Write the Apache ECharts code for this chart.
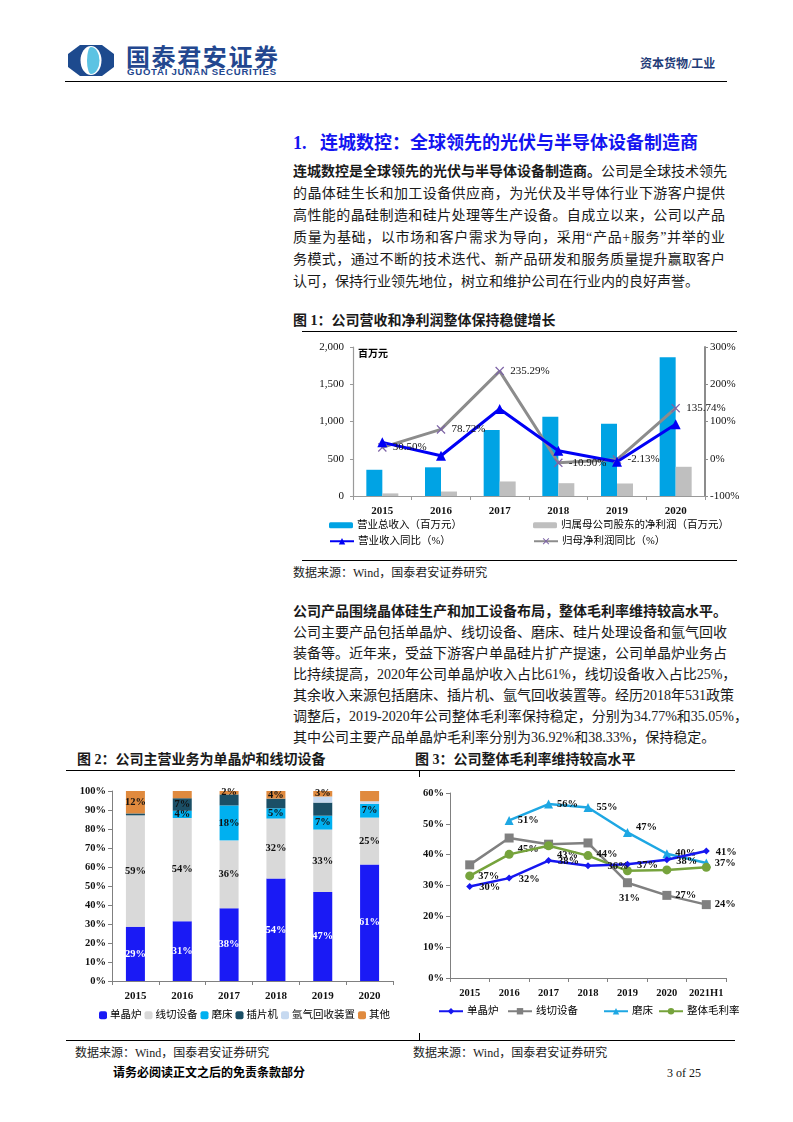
<!DOCTYPE html>
<html><head><meta charset="utf-8">
<script src="https://cdn.jsdelivr.net/npm/echarts@6/dist/echarts.min.js"></script>
<style>
body{margin:0;width:793px;height:1122px;position:relative;background:#fff;overflow:hidden;
 font-family:"Liberation Serif","Noto Sans CJK SC",serif;color:#1a1a1a}
.abs{position:absolute;white-space:nowrap}
.hl{position:absolute;height:0;border-top:1.4px solid #000}
.vl{position:absolute;width:0;border-left:1.4px solid #000}
.ln{position:absolute;left:293px;width:432px;height:20px;line-height:20px;font-size:14px;white-space:nowrap;text-align:justify;text-align-last:justify}
.ln.last{text-align:left;text-align-last:left}
.ft{font-size:14px;font-weight:bold;line-height:20px;height:20px}
.src{font-size:12px;line-height:16px;color:#222}
.chart{position:absolute}
</style>
</head><body>
<!-- header -->
<svg class="abs" style="left:68px;top:45px" width="46" height="31" viewBox="0 0 46 31">
 <polygon points="12,0 34,0 46,9 46,22 34,31 12,31 0,22 0,9" fill="#1d4a8e"/>
 <ellipse cx="23" cy="15.5" rx="10.5" ry="14.5" fill="#fff"/>
 <path d="M23,2 A8.5,13.5 0 0 1 23,29 A4,13.5 0 0 1 23,2 Z" fill="#5cc3e3"/>
</svg>
<div class="abs" style="left:126px;top:41px;font-family:'Noto Sans CJK SC';font-weight:bold;font-size:24px;line-height:30px;letter-spacing:1.6px;color:#23478f">国泰君安证券</div>
<div class="abs" style="left:127px;top:66px;font-family:'Liberation Sans';font-weight:bold;font-size:9.6px;line-height:12px;letter-spacing:0.75px;color:#23478f">GUOTAI JUNAN SECURITIES</div>
<div class="abs" style="left:640px;top:56px;font-family:'Liberation Serif','Noto Sans CJK SC';font-weight:bold;font-size:12px;line-height:16px;color:#1f3c78">资本货物/工业</div>
<div class="hl" style="left:65px;width:662px;top:81px"></div>

<!-- section 1 -->
<div class="abs" style="left:293px;top:131px;font-size:18px;line-height:24px;font-weight:bold;color:#1414f0">1.&nbsp;&nbsp;&nbsp;连城数控：全球领先的光伏与半导体设备制造商</div>
<div class="ln" style="top:162px"><b>连城数控是全球领先的光伏与半导体设备制造商。</b>公司是全球技术领先</div>
<div class="ln" style="top:184px">的晶体硅生长和加工设备供应商，为光伏及半导体行业下游客户提供</div>
<div class="ln" style="top:206px">高性能的晶硅制造和硅片处理等生产设备。自成立以来，公司以产品</div>
<div class="ln" style="top:228px">质量为基础，以市场和客户需求为导向，采用“产品+服务”并举的业</div>
<div class="ln" style="top:250px">务模式，通过不断的技术迭代、新产品研发和服务质量提升赢取客户</div>
<div class="ln last" style="top:272px">认可，保持行业领先地位，树立和维护公司在行业内的良好声誉。</div>

<div class="abs ft" style="left:293px;top:311px">图 1：公司营收和净利润整体保持稳健增长</div>
<div class="hl" style="left:302px;width:435px;top:331px"></div>
<div id="c1" class="chart" style="left:290px;top:332px;width:460px;height:227px"></div>
<div class="abs" style="left:358px;top:346px;font-family:'Noto Sans CJK SC';font-weight:bold;font-size:10px;line-height:14px;color:#000">百万元</div>
<div class="hl" style="left:302px;width:435px;top:560px"></div>
<div class="abs src" style="left:293px;top:565px">数据来源：Wind，国泰君安证券研究</div>

<!-- section 2 -->
<div class="ln" style="top:602px;font-weight:bold">公司产品围绕晶体硅生产和加工设备布局，整体毛利率维持较高水平。</div>
<div class="ln" style="top:623px">公司主要产品包括单晶炉、线切设备、磨床、硅片处理设备和氩气回收</div>
<div class="ln" style="top:644px">装备等。近年来，受益下游客户单晶硅片扩产提速，公司单晶炉业务占</div>
<div class="ln" style="top:665px">比持续提高，2020年公司单晶炉收入占比61%，线切设备收入占比25%，</div>
<div class="ln" style="top:686px">其余收入来源包括磨床、插片机、氩气回收装置等。经历2018年531政策</div>
<div class="ln" style="top:707px">调整后，2019-2020年公司整体毛利率保持稳定，分别为34.77%和35.05%，</div>
<div class="ln last" style="top:728px">其中公司主要产品单晶炉毛利率分别为36.92%和38.33%，保持稳定。</div>

<div class="abs ft" style="left:77px;top:750px">图 2：公司主营业务为单晶炉和线切设备</div>
<div class="abs ft" style="left:415px;top:750px">图 3：公司整体毛利率维持较高水平</div>
<div class="hl" style="left:66px;width:669px;top:770px"></div>
<div class="vl" style="left:419px;top:770px;height:7px"></div>
<div id="c2" class="chart" style="left:66px;top:771px;width:353px;height:268px"></div>
<div id="c3" class="chart" style="left:420px;top:771px;width:330px;height:268px"></div>
<div class="vl" style="left:419px;top:1033px;height:7px"></div>
<div class="hl" style="left:66px;width:669px;top:1040px"></div>
<div class="abs src" style="left:75px;top:1045px">数据来源：Wind，国泰君安证券研究</div>
<div class="abs src" style="left:413px;top:1045px">数据来源：Wind，国泰君安证券研究</div>

<div class="abs" style="left:113px;top:1065px;font-size:12px;line-height:16px;font-weight:bold;color:#000">请务必阅读正文之后的免责条款部分</div>
<div class="abs" style="left:667px;top:1065px;font-size:12px;line-height:16px;color:#111">3 of 25</div>

<script>
// ---------- data: figure 1 ----------
const years1 = ['2015', '2016', '2017', '2018', '2019', '2020'];
const revenue = [352, 385, 886, 1064, 970, 1862];          // 营业总收入（百万元）
const netProfit = [35, 60, 195, 172, 168, 392];            // 归属母公司股东的净利润（百万元）
const revenueYoY = [44, 8, 133.6, 21.6, -8, 92.5];         // 营业收入同比（%）
const profitYoY = [30.50, 78.72, 235.29, -10.90, -2.13, 135.74]; // 归母净利润同比（%）

// ---------- data: figure 2 ----------
const years2 = ['2015', '2016', '2017', '2018', '2019', '2020'];
const shareNames = ['单晶炉', '线切设备', '磨床', '插片机', '氩气回收装置', '其他'];
const shareDJL = [28.6, 31.4, 38.3, 53.9, 46.8, 61.3];
const shareXQ = [58.6, 54.4, 35.7, 31.6, 32.9, 24.7];
const shareMC = [0, 3.8, 18.4, 5.4, 7.3, 7.2];
const shareCP = [1.0, 6.6, 5.8, 5.1, 6.9, 0];
const shareYQ = [0, 0, 0, 0, 3.2, 1.4];
const shareQT = [11.8, 3.8, 1.8, 4.0, 2.9, 5.4];

// ---------- data: figure 3 ----------
const years3 = ['2015', '2016', '2017', '2018', '2019', '2020', '2021H1'];
const marginNames = ['单晶炉', '线切设备', '磨床', '整体毛利率'];
const marginDJL = [29.7, 32.4, 38.1, 36.4, 36.92, 38.33, 41.2];
const marginXQ = [36.7, 45.4, 43.4, 43.8, 30.9, 26.8, 23.8];
const marginMC = [null, 51.1, 56.4, 55.3, 47.2, 40.3, 37.3];
const marginTotal = [33.1, 40.1, 42.9, 39.7, 34.77, 35.05, 35.9];

// ---------- rendering ----------
const SERIF = "'Liberation Serif','Noto Sans CJK SC'";
const xMark = 'path://M0,1L1,0L5,4L9,0L10,1L6,5L10,9L9,10L5,6L1,10L0,9L4,5Z';

function legendAt(name, left, top, w, h) {
  return {data: [name], left: left, top: top, itemWidth: w, itemHeight: h, padding: 0,
    itemGap: 0, textStyle: {fontFamily: SERIF, fontSize: 10.5, color: '#000', padding: [0, 0, 0, -1]}};
}

// Figure 1
const c1 = echarts.init(document.getElementById('c1'));
c1.setOption({
  animation: false,
  textStyle: {fontFamily: SERIF},
  grid: {left: 63, right: 45, top: 15, bottom: 63},
  legend: [
    legendAt('营业总收入（百万元）', 39, 188, 24, 6),
    legendAt('归属母公司股东的净利润（百万元）', 243, 188, 24, 6),
    legendAt('营业收入同比（%）', 39, 204, 24, 8),
    legendAt('归母净利润同比（%）', 243, 204, 24, 8)
  ],
  xAxis: {type: 'category', data: years1,
    axisLine: {lineStyle: {color: '#9a9a9a', width: 1}},
    axisTick: {show: true, length: 4, lineStyle: {color: '#9a9a9a'}},
    axisLabel: {color: '#111', fontSize: 11, fontWeight: 'bold', margin: 10}},
  yAxis: [
    {type: 'value', min: 0, max: 2000, interval: 500,
      axisLine: {show: true, lineStyle: {color: '#9a9a9a', width: 1.2}},
      axisTick: {show: true, length: 3, lineStyle: {color: '#9a9a9a'}},
      splitLine: {show: false},
      axisLabel: {formatter: v => v.toLocaleString('en-US'), fontSize: 11, color: '#111', margin: 9}},
    {type: 'value', min: -100, max: 300, interval: 100, position: 'right',
      axisLine: {show: true, lineStyle: {color: '#8c8c8c', width: 2}},
      axisTick: {show: true, length: 3, lineStyle: {color: '#8c8c8c'}},
      splitLine: {show: false},
      axisLabel: {formatter: '{value}%', fontSize: 11, color: '#111', margin: 5}}
  ],
  series: [
    {name: '营业总收入（百万元）', type: 'bar', data: revenue, barWidth: 16, barGap: '0%',
      itemStyle: {color: '#00a3e4'}},
    {name: '归属母公司股东的净利润（百万元）', type: 'bar', data: netProfit, barWidth: 16,
      itemStyle: {color: '#bfbfbf'}},
    {name: '归母净利润同比（%）', type: 'line', yAxisIndex: 1, data: profitYoY,
      symbol: xMark, symbolSize: 9, lineStyle: {color: '#8c8c8c', width: 3},
      itemStyle: {color: '#7d63a6'},
      label: {show: true, position: 'right', distance: 6, formatter: p => p.value.toFixed(2) + '%',
        fontSize: 11, color: '#111'}},
    {name: '营业收入同比（%）', type: 'line', yAxisIndex: 1, data: revenueYoY,
      symbol: 'triangle', symbolSize: 10, lineStyle: {color: '#0000f5', width: 3},
      itemStyle: {color: '#0000f5'}}
  ]
});

// Figure 2
const shareData = [shareDJL, shareXQ, shareMC, shareCP, shareYQ, shareQT];
const shareColors = ['#1a1af5', '#d9d9d9', '#00b0f0', '#1b4f66', '#c6d9f0', '#e08a3e'];
const shareLabelIdx = [[0,1,2,3,4,5], [0,1,2,3,4,5], [1,2,3,4,5], [1], [], [0,2,3,4]];
const c2 = echarts.init(document.getElementById('c2'));
c2.setOption({
  animation: false,
  textStyle: {fontFamily: SERIF},
  grid: {left: 46, right: 26, top: 20, bottom: 58},
  legend: {data: shareNames, left: 33, top: 239, itemWidth: 8, itemHeight: 8, padding: 0,
    itemGap: 3, textStyle: {fontFamily: SERIF, fontSize: 10.5, color: '#000', padding: [0, 0, 0, -2]}},
  xAxis: {type: 'category', data: years2,
    axisLine: {lineStyle: {color: '#808080'}},
    axisTick: {show: true, length: 4, lineStyle: {color: '#808080'}},
    axisLabel: {color: '#111', fontSize: 11, fontWeight: 'bold', margin: 10}},
  yAxis: {type: 'value', min: 0, max: 100, interval: 10,
    axisLine: {show: true, lineStyle: {color: '#808080'}},
    axisTick: {show: true, length: 4, lineStyle: {color: '#808080'}},
    splitLine: {show: false},
    axisLabel: {formatter: '{value}%', fontSize: 10.5, fontWeight: 'bold', color: '#111', margin: 6}},
  series: shareNames.map((n, s) => ({
    name: n, type: 'bar', stack: 'share', barWidth: 19,
    itemStyle: {color: shareColors[s]},
    data: shareData[s].map((v, i) => ({value: v,
      label: {show: shareLabelIdx[s].includes(i)}})),
    label: {position: 'inside', formatter: p => Math.round(p.value) + '%',
      fontSize: 10.5, fontWeight: 'bold', color: s === 0 ? '#fff' : '#111'}
  }))
});

// Figure 3
const marginData = [marginDJL, marginXQ, marginMC, marginTotal];
const marginColors = ['#1616f0', '#808080', '#1ea7e3', '#76a33c'];
const marginSymbols = ['diamond', 'rect', 'triangle', 'circle'];
const marginSizes = [7, 9, 9, 9];
function labelFor(s, i) {
  if (s === 3) return {show: false};
  if (s === 1) {
    if (i < 4) return {show: true, position: 'right', offset: [0, 11]};
    if (i === 4) return {show: true, position: 'bottom', offset: [2, 2]};
    return {show: true, position: 'right'};
  }
  if (s === 0) return {show: true, position: 'right', offset: [i === 3 ? 12 : 2, 1]};
  if (s === 2 && i === 4) return {show: true, position: 'right', offset: [0, -5]};
  return {show: true, position: 'right'};
}
const c3 = echarts.init(document.getElementById('c3'));
c3.setOption({
  animation: false,
  textStyle: {fontFamily: SERIF},
  grid: {left: 28, right: 24, top: 22, bottom: 61},
  legend: marginNames.map((n, i) => legendAt(n, [18, 87, 183, 238][i], 235, 24, 8)),
  xAxis: {type: 'category', data: years3,
    axisLine: {lineStyle: {color: '#808080'}},
    axisTick: {show: true, length: 4, lineStyle: {color: '#808080'}},
    axisLabel: {color: '#111', fontSize: 10.5, fontWeight: 'bold', margin: 10, interval: 0}},
  yAxis: {type: 'value', min: 0, max: 60, interval: 10,
    axisLine: {show: true, lineStyle: {color: '#808080'}},
    axisTick: {show: true, length: 4, lineStyle: {color: '#808080'}},
    splitLine: {show: false},
    axisLabel: {formatter: '{value}%', fontSize: 10.5, fontWeight: 'bold', color: '#111', margin: 6}},
  series: marginNames.map((n, s) => ({
    name: n, type: 'line', symbol: marginSymbols[s], symbolSize: marginSizes[s],
    lineStyle: {color: marginColors[s], width: 2.5}, itemStyle: {color: marginColors[s]},
    z: [5, 3, 2, 4][s],
    data: marginData[s].map((v, i) => ({value: v, label: labelFor(s, i)})),
    label: {formatter: p => Math.round(p.value) + '%', fontSize: 10.5, fontWeight: 'bold',
      color: '#111', distance: 4}
  }))
});
</script>
</body></html>
